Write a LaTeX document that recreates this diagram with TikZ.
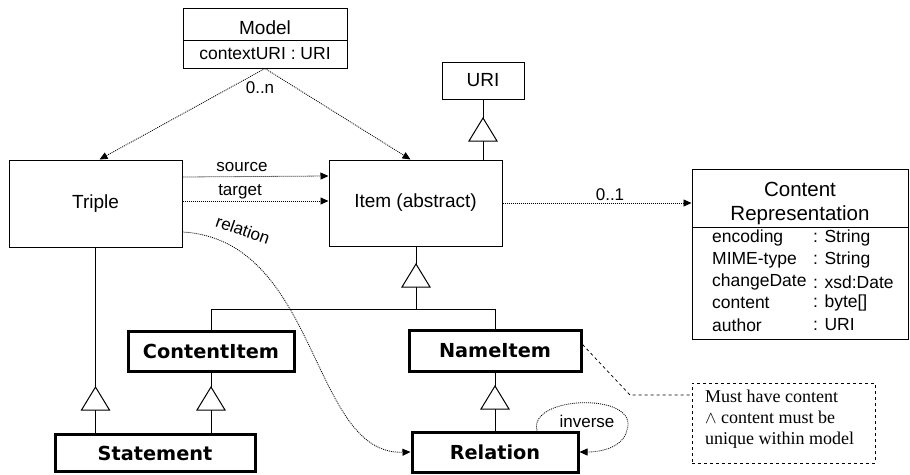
\documentclass[tikz,border=0pt]{standalone}
\usepackage{fontspec}
\setmainfont{Liberation Sans}
\newfontfamily\boldfam{DejaVu Sans}
\newfontfamily\notefam{Liberation Serif}
\usetikzlibrary{arrows.meta}
\newcommand\gtriangle[2]{\draw[gtri] (#1,#2) -- ++(-14,23) -- ++(28,0) -- cycle;}
\begin{document}
\begin{tikzpicture}[x=1pt,y=-1pt,
  box/.style={draw, line width=1pt, inner sep=0pt, font=\fontsize{19}{22}\selectfont},
  thickbox/.style={draw, line width=3pt, inner sep=0pt, font=\boldfam\bfseries\fontsize{19.3}{22}\selectfont},
  lbl/.style={inner sep=0pt, font=\fontsize{17}{20}\selectfont},
  attr/.style={inner sep=0pt, font=\fontsize{17.5}{20}\selectfont},
  dep/.style={dash pattern=on 1pt off 1pt, line width=0.8pt, -{Triangle[length=8pt,width=7pt]}},
  gen/.style={line width=1pt},
  gtri/.style={draw, line width=1pt, fill=white}
]
\useasboundingbox (0,0) rectangle (910,474);
\fill[white] (0,0) rectangle (910,474);

% boxes
\node[box, minimum width=164pt, minimum height=60pt] (model) at (265,38) {};
\draw[line width=1pt] (model.west |- 0,40) -- (model.east |- 0,40);
\node[box, draw=none] (modeltitle) at (265,28) {Model};
\node[attr] (modelattr) at (265,54) {contextURI : URI};

\node[box, minimum width=82pt, minimum height=37pt] (uri) at (483,80.5) {URI};
\node[box, minimum width=173pt, minimum height=87pt] (triple) at (95.5,203.5) {Triple};
\node[box, minimum width=173pt, minimum height=86pt] (item) at (415.5,203) {Item (abstract)};

\node[box, minimum width=216pt, minimum height=170pt] (cr) at (800,254) {};
\draw[line width=1pt] (cr.west |- 0,227) -- (cr.east |- 0,227);
\node[box, draw=none, font=\fontsize{20.5}{24}\selectfont] (crt1) at (800,189) {Content};
\node[box, draw=none, font=\fontsize{20.5}{24}\selectfont] (crt2) at (800,215) {Representation};
\foreach \n/\t/\y in {a/encoding/238, b/MIME-type/260, c/changeDate/282, d/content/303, e/author/325}{
  \node[attr, anchor=west] (crn\n) at (712,\y) {\t};
}
\foreach \n/\t/\y in {a/String/238, b/String/260, c/xsd:Date/282, d/byte[]/303, e/URI/325}{
  \node[attr, anchor=west] (crv\n) at (813,\y) {: \t};
}

\node[thickbox, minimum width=166pt, minimum height=40pt] (contentitem) at (211,351) {ContentItem};
\node[thickbox, minimum width=172pt, minimum height=41pt] (nameitem) at (495,350.5) {NameItem};
\node[thickbox, minimum width=200pt, minimum height=37pt] (statement) at (155,453) {Statement};
\node[thickbox, minimum width=166pt, minimum height=40pt] (relation) at (495,452) {Relation};

\node[draw, dashed, line width=0.8pt, minimum width=183pt, minimum height=80pt] (note) at (783.5,423) {};
\node[anchor=north west, align=left, inner sep=0pt, font=\notefam\fontsize{18}{21}\selectfont] (notetext) at (705,390)
  {Must have content\\$\wedge$ content must be\\unique within model};

% generalizations
\coordinate (hl) at (416,309);
\draw[gen] (uri.south) -- (uri.south |- item.north);
\gtriangle{483}{118}
\draw[gen] (item.south -| hl) -- (hl);
\gtriangle{416}{264}
\draw[gen] (contentitem.north) -- (contentitem.north |- hl) -- (nameitem.north |- hl) -- (nameitem.north);
\draw[gen] (triple.south) -- (triple.south |- statement.north);
\gtriangle{95.5}{387}
\draw[gen] (contentitem.south) -- (contentitem.south |- statement.north);
\gtriangle{211}{387}
\draw[gen] (nameitem.south) -- (relation.north);
\gtriangle{495}{386}

% dependencies
\draw[dep] (model.south) -- ([xshift=4]triple.north);
\draw[dep] (model.south) -- ([xshift=-5]item.north);
\node[lbl] (zeron) at (260,88) {0..n};
\draw[dep] (triple.east |- 0,177) -- (item.west |- 0,176);
\node[lbl] (src) at (242,167) {source};
\draw[dep] (triple.east |- 0,201) -- (item.west |- 0,201);
\node[lbl] (tgt) at (240,192) {target};
\draw[dep] (item.east |- 0,203) -- (cr.west |- 0,203);
\node[lbl] (zeroone) at (610,195) {0..1};
\draw[dep] (triple.east |- 0,232) .. controls (320,240) and (310,455) .. (relation.west);
\node[lbl, rotate=-19] (rel) at (243,230) {relation};
\draw[dep] ([xshift=42]relation.north) .. controls (528,395) and (640,392) .. (627,430)
  .. controls (623,448) and (600,452) .. (relation.east);
\node[lbl] (inv) at (587,421) {inverse};

% note connector
\coordinate (bend) at (630,395);
\draw[dashed, line width=0.8pt] ([yshift=6]nameitem.east) -- (bend) -- (note.west |- bend);
\end{tikzpicture}
\end{document}
